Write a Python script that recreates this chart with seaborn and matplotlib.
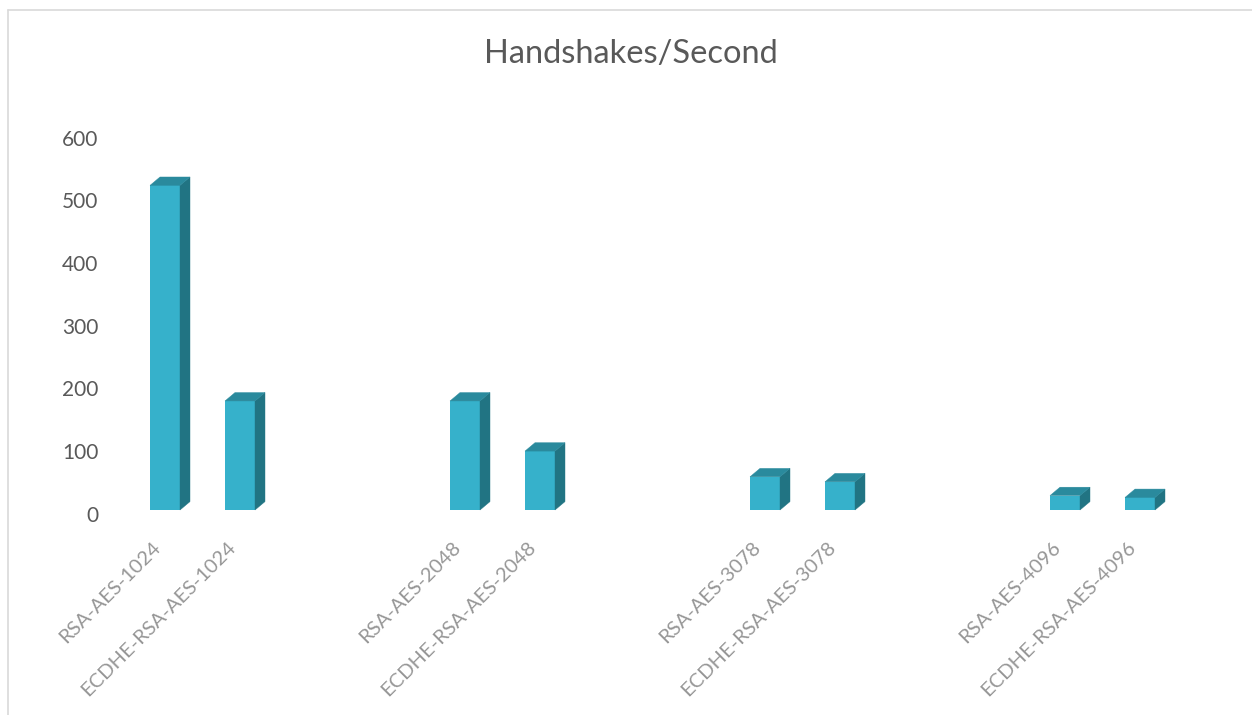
import matplotlib
matplotlib.use("Agg")
import matplotlib.pyplot as plt
import matplotlib.transforms as mtransforms
from matplotlib.patches import Polygon
from matplotlib.lines import Line2D
import numpy as np
import pandas as pd
import seaborn as sns

# Handshake throughput per cipher suite
suites = [
    "RSA-AES-1024", "ECDHE-RSA-AES-1024",
    "RSA-AES-2048", "ECDHE-RSA-AES-2048",
    "RSA-AES-3078", "ECDHE-RSA-AES-3078",
    "RSA-AES-4096", "ECDHE-RSA-AES-4096",
]
handshakes = [518, 174, 174, 94, 53, 45, 23, 20]
key_group = [0, 0, 1, 1, 2, 2, 3, 3]
member = [0, 1, 0, 1, 0, 1, 0, 1]

y_ticks = [0, 100, 200, 300, 400, 500, 600]

FRONT = "#36B1CB"
SIDE = "#217483"
TOP = "#2A8A9D"
TEXT_DARK = "#595959"
TEXT_LIGHT = "#979797"

sns.set_theme(style="white")
plt.rcParams["font.family"] = ["Lato", "DejaVu Sans"]

W, H, DPI = 1252, 715, 100
fig = plt.figure(figsize=(W / DPI, H / DPI), dpi=DPI)
fig.patch.set_facecolor("white")

# two empty slots between each key-size group
GROUP_STRIDE = 4
pos = [g * GROUP_STRIDE + m for g, m in zip(key_group, member)]
df = pd.DataFrame({"pos": pos, "suite": suites, "value": handshakes})

ax = fig.add_axes([127.5 / W, 1 - 510 / H, 1050 / W, 376 / H])
sns.barplot(data=df, x="pos", y="value", native_scale=True, width=0.4,
            color=FRONT, saturation=1, ax=ax, linewidth=0)

ax.set_xlim(-0.5, 13.5)
ax.set_ylim(0, 600)
for s in ax.spines.values():
    s.set_visible(False)
ax.set_xlabel("")
ax.set_ylabel("")
ax.grid(False)

# 3D look: extrude each bar back and to the right by a fixed pixel depth
fig.canvas.draw()
inv = ax.transData.inverted()
p0 = inv.transform((0, 0))
p1 = inv.transform((10, 8.4))
dx, dy = p1[0] - p0[0], p1[1] - p0[1]
for bar in list(ax.patches):
    x0, w, h = bar.get_x(), bar.get_width(), bar.get_height()
    top = Polygon([(x0, h), (x0 + w, h), (x0 + w + dx, h + dy), (x0 + dx, h + dy)],
                  closed=True, facecolor=TOP, edgecolor=TOP, lw=0.3, clip_on=False)
    side = Polygon([(x0 + w, 0), (x0 + w + dx, dy), (x0 + w + dx, h + dy), (x0 + w, h)],
                   closed=True, facecolor=SIDE, edgecolor=SIDE, lw=0.3, clip_on=False)
    ax.add_patch(side)
    ax.add_patch(top)

# value axis labels
ax.set_yticks(y_ticks)
ax.set_yticklabels([str(v) for v in y_ticks])
ax.tick_params(axis="y", length=0, pad=21, labelsize=15, labelcolor=TEXT_DARK)
down = mtransforms.ScaledTranslation(0, -3.5 / DPI, fig.dpi_scale_trans)
for lab in ax.get_yticklabels():
    lab.set_transform(lab.get_transform() + down)

# category labels, slanted
ax.set_xticks(pos)
ax.set_xticklabels(suites)
ax.tick_params(axis="x", length=0, pad=25, labelsize=14.5, labelcolor=TEXT_LIGHT)
shift = mtransforms.ScaledTranslation(-7 / DPI, 0, fig.dpi_scale_trans)
for lab in ax.get_xticklabels():
    lab.set_rotation(45)
    lab.set_ha("right")
    lab.set_va("center")
    lab.set_rotation_mode("anchor")
    lab.set_transform(lab.get_transform() + shift)

fig.text(631 / W, 1 - 63.3 / H, "Handshakes/Second", ha="center", va="baseline",
         fontsize=23.5, color=TEXT_DARK)

# chart-area border
bx, by = 7.5 / W, 1 - 9.5 / H
fig.add_artist(Line2D([bx, bx], [0, by], color="#D9D9D9", lw=1.2,
                      transform=fig.transFigure))
fig.add_artist(Line2D([bx, 1], [by, by], color="#D9D9D9", lw=1.2,
                      transform=fig.transFigure))

fig.savefig("out.png", dpi=DPI, facecolor="white")
